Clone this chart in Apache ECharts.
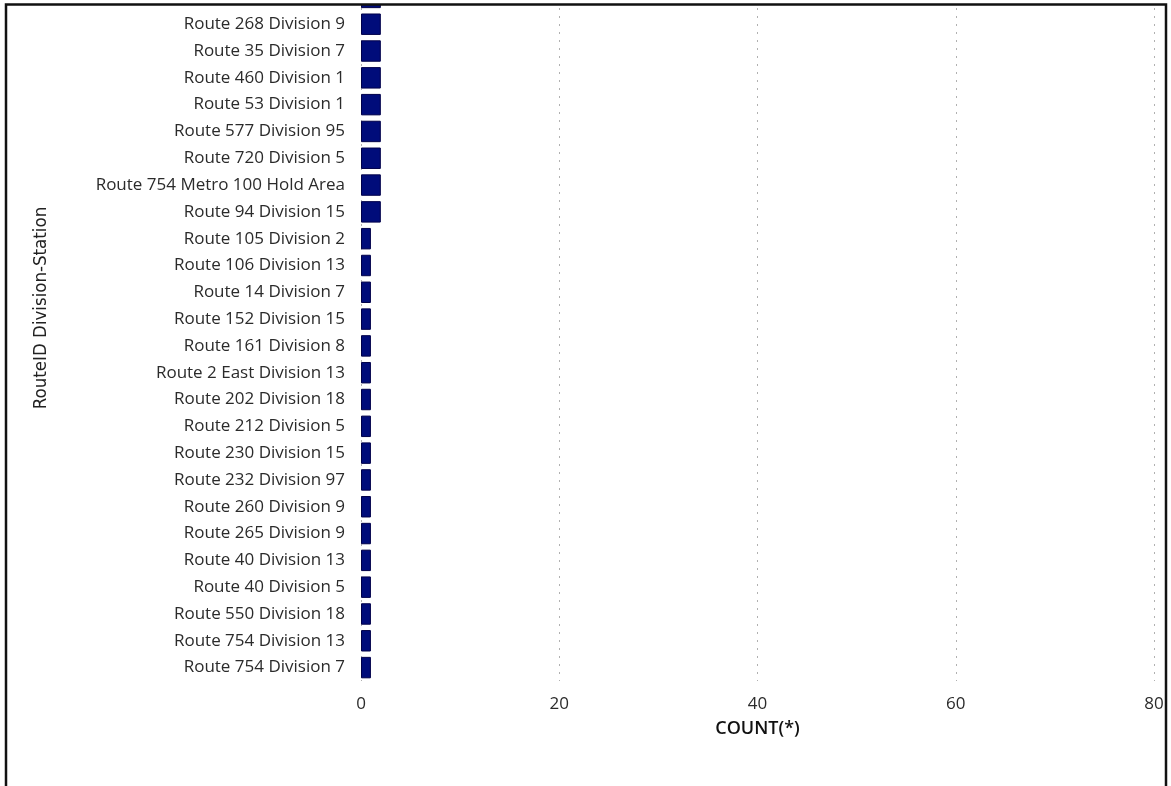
<!DOCTYPE html>
<html>
<head>
<meta charset="utf-8">
<script src="https://cdn.jsdelivr.net/npm/echarts@6/dist/echarts.min.js"></script>
<style>
  html, body { margin: 0; padding: 0; background: #fff; }
  #chart { width: 1171px; height: 786px; }
</style>
</head>
<body>
<div id="chart"></div>
<script>
// first row is scrolled off the top of the view, only its bar edge shows
const routes = [
  '',
  'Route 268 Division 9',
  'Route 35 Division 7',
  'Route 460 Division 1',
  'Route 53 Division 1',
  'Route 577 Division 95',
  'Route 720 Division 5',
  'Route 754 Metro 100 Hold Area',
  'Route 94 Division 15',
  'Route 105 Division 2',
  'Route 106 Division 13',
  'Route 14 Division 7',
  'Route 152 Division 15',
  'Route 161 Division 8',
  'Route 2 East Division 13',
  'Route 202 Division 18',
  'Route 212 Division 5',
  'Route 230 Division 15',
  'Route 232 Division 97',
  'Route 260 Division 9',
  'Route 265 Division 9',
  'Route 40 Division 13',
  'Route 40 Division 5',
  'Route 550 Division 18',
  'Route 754 Division 13',
  'Route 754 Division 7'
];
const counts = [2, 2, 2, 2, 2, 2, 2, 2, 2, 1, 1, 1, 1, 1, 1, 1, 1, 1, 1, 1, 1, 1, 1, 1, 1, 1];
const countTicks = [0, 20, 40, 60, 80];

const chart = echarts.init(document.getElementById('chart'));

const labelFont = { color: '#2b2b2b', fontFamily: 'Open Sans', fontSize: 17 };

chart.setOption({
  animation: false,
  backgroundColor: '#fff',
  grid: { left: 361, right: 17, top: -16, bottom: 105, containLabel: false, outerBoundsMode: 'none' },
  xAxis: {
    type: 'value',
    min: countTicks[0],
    max: countTicks[countTicks.length - 1],
    interval: 20,
    name: 'COUNT(*)',
    nameLocation: 'middle',
    nameGap: 39,
    nameTextStyle: { color: '#111', fontFamily: 'Open Sans', fontSize: 18, fontWeight: 600 },
    axisLine: { show: false },
    axisTick: { show: false },
    axisLabel: { ...labelFont, margin: 15 },
    splitLine: { show: true, lineStyle: { color: '#b0b0b0', type: [2, 6], width: 1 } }
  },
  yAxis: {
    type: 'category',
    inverse: true,
    data: routes,
    axisLine: { show: false },
    axisTick: { show: false },
    axisLabel: { ...labelFont, margin: 16 },
    splitLine: { show: false }
  },
  series: [{
    type: 'bar',
    data: counts,
    barCategoryGap: '20%',
    itemStyle: { color: '#000c7a', borderColor: '#00004a', borderWidth: 1 }
  }],
  graphic: [
    { type: 'rect', z: 100, shape: { x: 0, y: 0, width: 1171, height: 4 }, style: { fill: '#fff' } },
    { type: 'rect', z: 101, shape: { x: 6, y: 4.5, width: 1160, height: 900 }, style: { fill: 'none', stroke: '#111', lineWidth: 2.5 } },
    {
      type: 'text', z: 101, x: 41, y: 308, rotation: Math.PI / 2,
      style: {
        text: 'RouteID Division-Station',
        fill: '#222',
        font: '18.5px "DejaVu Sans Condensed", "Roboto"',
        align: 'center',
        verticalAlign: 'middle'
      }
    }
  ]
});
</script>
</body>
</html>
